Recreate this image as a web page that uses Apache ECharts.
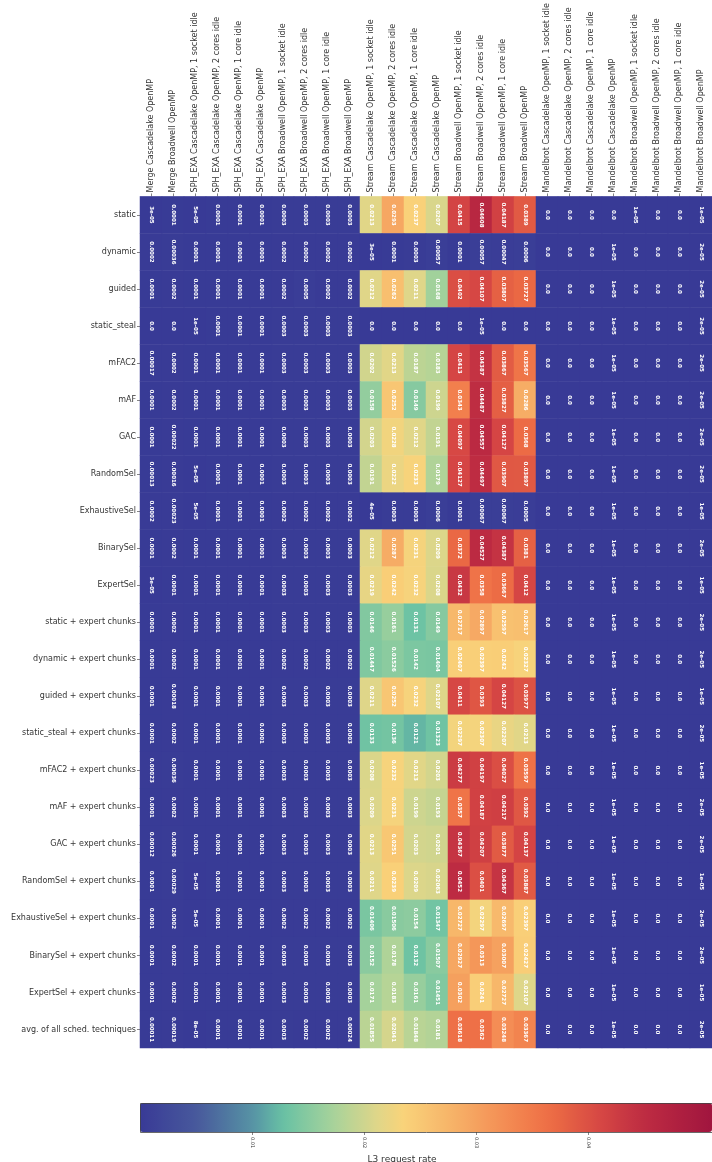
<!DOCTYPE html>
<html>
<head>
<meta charset="utf-8">
<script src="https://cdn.jsdelivr.net/npm/echarts@6/dist/echarts.min.js"></script>
<style>
  html, body { margin: 0; padding: 0; background: #fff; }
  #chart { width: 712px; height: 1162px; }
</style>
</head>
<body>
<div id="chart"></div>
<script>
// scheduling techniques (rows)
const techniques = [
  'static', 'dynamic', 'guided', 'static_steal', 'mFAC2', 'mAF', 'GAC',
  'RandomSel', 'ExhaustiveSel', 'BinarySel', 'ExpertSel',
  'static + expert chunks', 'dynamic + expert chunks', 'guided + expert chunks',
  'static_steal + expert chunks', 'mFAC2 + expert chunks', 'mAF + expert chunks',
  'GAC + expert chunks', 'RandomSel + expert chunks', 'ExhaustiveSel + expert chunks',
  'BinarySel + expert chunks', 'ExpertSel + expert chunks', 'avg. of all sched. techniques'
];

// applications / systems (columns)
const apps = [
  'Merge Cascadelake OpenMP', 'Merge Broadwell OpenMP',
  'SPH_EXA Cascadelake OpenMP, 1 socket idle', 'SPH_EXA Cascadelake OpenMP, 2 cores idle',
  'SPH_EXA Cascadelake OpenMP, 1 core idle', 'SPH_EXA Cascadelake OpenMP',
  'SPH_EXA Broadwell OpenMP, 1 socket idle', 'SPH_EXA Broadwell OpenMP, 2 cores idle',
  'SPH_EXA Broadwell OpenMP, 1 core idle', 'SPH_EXA Broadwell OpenMP',
  'Stream Cascadelake OpenMP, 1 socket idle', 'Stream Cascadelake OpenMP, 2 cores idle',
  'Stream Cascadelake OpenMP, 1 core idle', 'Stream Cascadelake OpenMP',
  'Stream Broadwell OpenMP, 1 socket idle', 'Stream Broadwell OpenMP, 2 cores idle',
  'Stream Broadwell OpenMP, 1 core idle', 'Stream Broadwell OpenMP',
  'Mandelbrot Cascadelake OpenMP, 1 socket idle', 'Mandelbrot Cascadelake OpenMP, 2 cores idle',
  'Mandelbrot Cascadelake OpenMP, 1 core idle', 'Mandelbrot Cascadelake OpenMP',
  'Mandelbrot Broadwell OpenMP, 1 socket idle', 'Mandelbrot Broadwell OpenMP, 2 cores idle',
  'Mandelbrot Broadwell OpenMP, 1 core idle', 'Mandelbrot Broadwell OpenMP'
];

// one entry per technique, values for the columns of each group
const mergeVals = [
  [3e-05, 0.0001], [0.0002, 0.00036], [0.0001, 0.0002], [0.0, 0.0],
  [0.00017, 0.0002], [0.0001, 0.0002], [0.0001, 0.00022], [0.00013, 0.00016],
  [0.0002, 0.00023], [0.0001, 0.0002], [3e-05, 0.0001], [0.0001, 0.0002],
  [0.0001, 0.0002], [0.0001, 0.00018], [0.0001, 0.0002], [0.00023, 0.00036],
  [0.0001, 0.0002], [0.00012, 0.00026], [0.0001, 0.00029], [0.0001, 0.0002],
  [0.0001, 0.0002], [0.0001, 0.0002], [0.00011, 0.00019]
];
const sphCascadeVals = [
  [5e-05, 0.0001, 0.0001, 0.0001], [0.0001, 0.0001, 0.0001, 0.0001], [0.0001, 0.0001, 0.0001, 0.0001],
  [1e-05, 0.0001, 0.0001, 0.0001], [0.0001, 0.0001, 0.0001, 0.0001], [0.0001, 0.0001, 0.0001, 0.0001],
  [0.0001, 0.0001, 0.0001, 0.0001], [5e-05, 0.0001, 0.0001, 0.0001], [5e-05, 0.0001, 0.0001, 0.0001],
  [0.0001, 0.0001, 0.0001, 0.0001], [0.0001, 0.0001, 0.0001, 0.0001], [0.0001, 0.0001, 0.0001, 0.0001],
  [0.0001, 0.0001, 0.0001, 0.0001], [0.0001, 0.0001, 0.0001, 0.0001], [0.0001, 0.0001, 0.0001, 0.0001],
  [0.0001, 0.0001, 0.0001, 0.0001], [0.0001, 0.0001, 0.0001, 0.0001], [0.0001, 0.0001, 0.0001, 0.0001],
  [5e-05, 0.0001, 0.0001, 0.0001], [5e-05, 0.0001, 0.0001, 0.0001], [0.0001, 0.0001, 0.0001, 0.0001],
  [0.0001, 0.0001, 0.0001, 0.0001], [8e-05, 0.0001, 0.0001, 0.0001]
];
const sphBroadwellVals = [
  [0.0003, 0.0003, 0.0003, 0.0003], [0.0002, 0.0002, 0.0002, 0.0002], [0.0002, 0.0005, 0.0002, 0.0002],
  [0.0003, 0.0003, 0.0003, 0.0003], [0.0003, 0.0003, 0.0003, 0.0003], [0.0003, 0.0003, 0.0003, 0.0003],
  [0.0003, 0.0003, 0.0003, 0.0003], [0.0003, 0.0003, 0.0003, 0.0003], [0.0002, 0.0002, 0.0002, 0.0002],
  [0.0003, 0.0003, 0.0003, 0.0003], [0.0003, 0.0003, 0.0003, 0.0003], [0.0003, 0.0003, 0.0003, 0.0003],
  [0.0002, 0.0002, 0.0002, 0.0002], [0.0003, 0.0003, 0.0003, 0.0003], [0.0003, 0.0003, 0.0003, 0.0003],
  [0.0003, 0.0003, 0.0003, 0.0003], [0.0003, 0.0003, 0.0003, 0.0003], [0.0003, 0.0003, 0.0003, 0.0003],
  [0.0003, 0.0003, 0.0003, 0.0003], [0.0002, 0.0002, 0.0002, 0.0002], [0.0003, 0.0003, 0.0003, 0.0003],
  [0.0003, 0.0003, 0.0003, 0.0003], [0.0003, 0.0002, 0.0002, 0.00024]
];
const streamCascadeVals = [
  [0.0213, 0.0293, 0.0237, 0.0207], [3e-05, 0.0001, 0.0003, 0.00057], [0.0212, 0.0262, 0.0211, 0.0168],
  [0.0, 0.0, 0.0, 0.0], [0.0202, 0.0213, 0.0187, 0.0183], [0.0158, 0.0252, 0.0149, 0.0199],
  [0.0203, 0.0228, 0.0212, 0.0191], [0.0191, 0.0222, 0.0233, 0.0179], [4e-05, 0.0003, 0.0003, 0.0006],
  [0.0212, 0.0287, 0.0231, 0.0209], [0.0219, 0.0242, 0.0232, 0.0208], [0.0146, 0.0161, 0.0131, 0.0149],
  [0.01447, 0.01526, 0.0142, 0.01404], [0.0211, 0.0252, 0.0232, 0.02107], [0.0133, 0.0136, 0.0121, 0.01323],
  [0.0208, 0.0232, 0.0213, 0.0203], [0.0209, 0.0231, 0.0199, 0.0193], [0.0213, 0.0251, 0.0203, 0.0201],
  [0.0211, 0.0239, 0.0209, 0.02063], [0.01406, 0.01506, 0.0154, 0.01347], [0.0152, 0.0178, 0.0132, 0.01507],
  [0.0171, 0.0183, 0.0161, 0.01451], [0.01855, 0.02041, 0.01848, 0.0181]
];
const streamBroadwellVals = [
  [0.0415, 0.04608, 0.04187, 0.0389], [0.0001, 0.00057, 0.00047, 0.0006], [0.0402, 0.04107, 0.03807, 0.03727],
  [0.0, 1e-05, 0.0, 0.0], [0.0413, 0.04387, 0.03867, 0.03567], [0.0343, 0.04487, 0.03827, 0.0286],
  [0.04097, 0.04557, 0.04127, 0.0368], [0.04127, 0.04497, 0.03907, 0.03897], [0.0001, 0.00067, 0.00067, 0.0005],
  [0.0372, 0.04527, 0.04387, 0.0381], [0.0432, 0.0358, 0.03667, 0.0412], [0.02717, 0.02897, 0.02597, 0.02617],
  [0.02407, 0.02397, 0.0242, 0.02327], [0.0411, 0.0393, 0.04127, 0.03977], [0.02297, 0.02307, 0.02207, 0.0213],
  [0.04277, 0.04197, 0.04027, 0.03597], [0.0357, 0.04187, 0.04217, 0.0392], [0.04367, 0.04207, 0.03877, 0.04137],
  [0.0452, 0.0401, 0.04367, 0.03887], [0.02727, 0.02297, 0.02697, 0.02397], [0.02927, 0.0313, 0.03007, 0.02427],
  [0.0302, 0.0241, 0.02727, 0.02107], [0.03618, 0.0362, 0.03248, 0.03367]
];
const mandelCascadeVals = [
  [0.0, 0.0, 0.0, 0.0], [0.0, 0.0, 0.0, 1e-05], [0.0, 0.0, 0.0, 1e-05], [0.0, 0.0, 0.0, 1e-05],
  [0.0, 0.0, 0.0, 1e-05], [0.0, 0.0, 0.0, 1e-05], [0.0, 0.0, 0.0, 1e-05], [0.0, 0.0, 0.0, 1e-05],
  [0.0, 0.0, 0.0, 1e-05], [0.0, 0.0, 0.0, 1e-05], [0.0, 0.0, 0.0, 1e-05], [0.0, 0.0, 0.0, 1e-05],
  [0.0, 0.0, 0.0, 1e-05], [0.0, 0.0, 0.0, 1e-05], [0.0, 0.0, 0.0, 1e-05], [0.0, 0.0, 0.0, 1e-05],
  [0.0, 0.0, 0.0, 1e-05], [0.0, 0.0, 0.0, 1e-05], [0.0, 0.0, 0.0, 1e-05], [0.0, 0.0, 0.0, 1e-05],
  [0.0, 0.0, 0.0, 1e-05], [0.0, 0.0, 0.0, 1e-05], [0.0, 0.0, 0.0, 1e-05]
];
const mandelBroadwellVals = [
  [1e-05, 0.0, 0.0, 1e-05], [0.0, 0.0, 0.0, 2e-05], [0.0, 0.0, 0.0, 2e-05], [0.0, 0.0, 0.0, 2e-05],
  [0.0, 0.0, 0.0, 2e-05], [0.0, 0.0, 0.0, 2e-05], [0.0, 0.0, 0.0, 2e-05], [0.0, 0.0, 0.0, 2e-05],
  [0.0, 0.0, 0.0, 1e-05], [0.0, 0.0, 0.0, 2e-05], [0.0, 0.0, 0.0, 1e-05], [0.0, 0.0, 0.0, 2e-05],
  [0.0, 0.0, 0.0, 2e-05], [0.0, 0.0, 0.0, 1e-05], [0.0, 0.0, 0.0, 2e-05], [0.0, 0.0, 0.0, 1e-05],
  [0.0, 0.0, 0.0, 2e-05], [0.0, 0.0, 0.0, 2e-05], [0.0, 0.0, 0.0, 1e-05], [0.0, 0.0, 0.0, 2e-05],
  [0.0, 0.0, 0.0, 2e-05], [0.0, 0.0, 0.0, 1e-05], [0.0, 0.0, 0.0, 2e-05]
];

// colorbar
const cbarMin = 0;
const cbarMax = 0.051;
const cbarTicks = [0.01, 0.02, 0.03, 0.04];

const FONT = 'DejaVu Sans';

// colormap stops [position 0..1, color]
const cmapStops = [
  [0.0, '#383a96'], [0.1, '#48599c'], [0.2, '#5795a5'], [0.25, '#68c1a4'],
  [0.335, '#a5d29b'], [0.41, '#dcd68a'], [0.46, '#f9d37a'], [0.57, '#f6a963'],
  [0.675, '#f27e4c'], [0.725, '#eb6a44'], [0.805, '#d64744'], [0.88, '#be2c42'],
  [1.0, '#a0153e']
];

function hex2rgb(h) {
  return [parseInt(h.substr(1, 2), 16), parseInt(h.substr(3, 2), 16), parseInt(h.substr(5, 2), 16)];
}
function sampleCmap(n) {
  const out = [];
  for (let i = 0; i < n; i++) {
    const t = i / (n - 1);
    let k = 0;
    while (k < cmapStops.length - 2 && t > cmapStops[k + 1][0]) k++;
    const [t0, c0] = cmapStops[k];
    const [t1, c1] = cmapStops[k + 1];
    const f = (t - t0) / (t1 - t0);
    const a = hex2rgb(c0), b = hex2rgb(c1);
    out.push('rgb(' + a.map((v, j) => Math.round(v + (b[j] - v) * f)).join(',') + ')');
  }
  return out;
}

// python-like str() of the value
function fmt(v) {
  if (v === 0) return '0.0';
  if (v < 1e-4) return v.toExponential().replace(/e-(\d)$/, 'e-0$1');
  return String(v);
}

const groups = [mergeVals, sphCascadeVals, sphBroadwellVals, streamCascadeVals,
  streamBroadwellVals, mandelCascadeVals, mandelBroadwellVals];

const data = [];
techniques.forEach((t, r) => {
  let col = 0;
  groups.forEach(g => {
    g[r].forEach(v => {
      data.push([col, r, v]);
      col++;
    });
  });
});

const chart = echarts.init(document.getElementById('chart'));

chart.setOption({
  backgroundColor: '#fff',
  animation: false,
  textStyle: { fontFamily: FONT },
  title: {
    text: 'L3 request rate',
    left: 397,
    textAlign: 'center',
    top: 1150,
    textStyle: { fontFamily: FONT, fontSize: 9, fontWeight: 'normal', color: '#333' }
  },
  grid: [
    { left: 140, top: 195, right: 0, bottom: 114 },
    { left: 140, top: 1103, width: 572, height: 29 }
  ],
  xAxis: [
    {
      type: 'category',
      data: apps,
      position: 'top',
      axisLine: { show: false },
      axisTick: { show: true, length: 3, alignWithLabel: true, lineStyle: { color: '#333', width: 0.6 } },
      splitLine: { show: false },
      axisLabel: {
        rotate: -90,
        interval: 0,
        margin: 4,
        fontSize: 8,
        fontFamily: FONT,
        color: '#333'
      }
    },
    {
      type: 'value',
      gridIndex: 1,
      min: cbarMin,
      max: cbarMax,
      position: 'bottom',
      axisLine: { show: false },
      splitLine: { show: false },
      axisTick: { show: true, length: 3, customValues: cbarTicks, lineStyle: { color: '#333', width: 0.6 } },
      axisLabel: {
        customValues: cbarTicks,
        rotate: -90,
        margin: 5,
        fontSize: 5,
        fontFamily: FONT,
        color: '#333',
        formatter: v => String(v)
      }
    }
  ],
  yAxis: [
    {
      type: 'category',
      data: techniques,
      inverse: true,
      axisLine: { show: false },
      axisTick: { show: true, length: 3, alignWithLabel: true, lineStyle: { color: '#333', width: 0.6 } },
      splitLine: { show: false },
      axisLabel: { interval: 0, margin: 4, fontSize: 8, fontFamily: FONT, color: '#333' }
    },
    { type: 'value', gridIndex: 1, show: false }
  ],
  visualMap: {
    type: 'continuous',
    seriesIndex: 0,
    min: cbarMin,
    max: cbarMax,
    orient: 'horizontal',
    left: 140,
    top: 1103,
    padding: 0,
    itemWidth: 29,
    itemHeight: 572,
    calculable: false,
    hoverLink: false,
    text: null,
    showLabel: false,
    inRange: { color: sampleCmap(64) }
  },
  graphic: [
    {
      type: 'rect',
      z: 100,
      shape: { x: 140.5, y: 1103.5, width: 572, height: 29 },
      style: { fill: null, stroke: '#444', lineWidth: 0.8 },
      silent: true
    }
  ],
  series: [
    {
      type: 'heatmap',
      data: data,
      itemStyle: { borderWidth: 0 },
      label: {
        show: true,
        rotate: -90,
        color: '#fff',
        fontSize: 5.5,
        fontWeight: 'bold',
        fontFamily: FONT,
        formatter: p => fmt(p.value[2])
      },
      emphasis: { disabled: true }
    }
  ]
});
</script>
</body>
</html>
